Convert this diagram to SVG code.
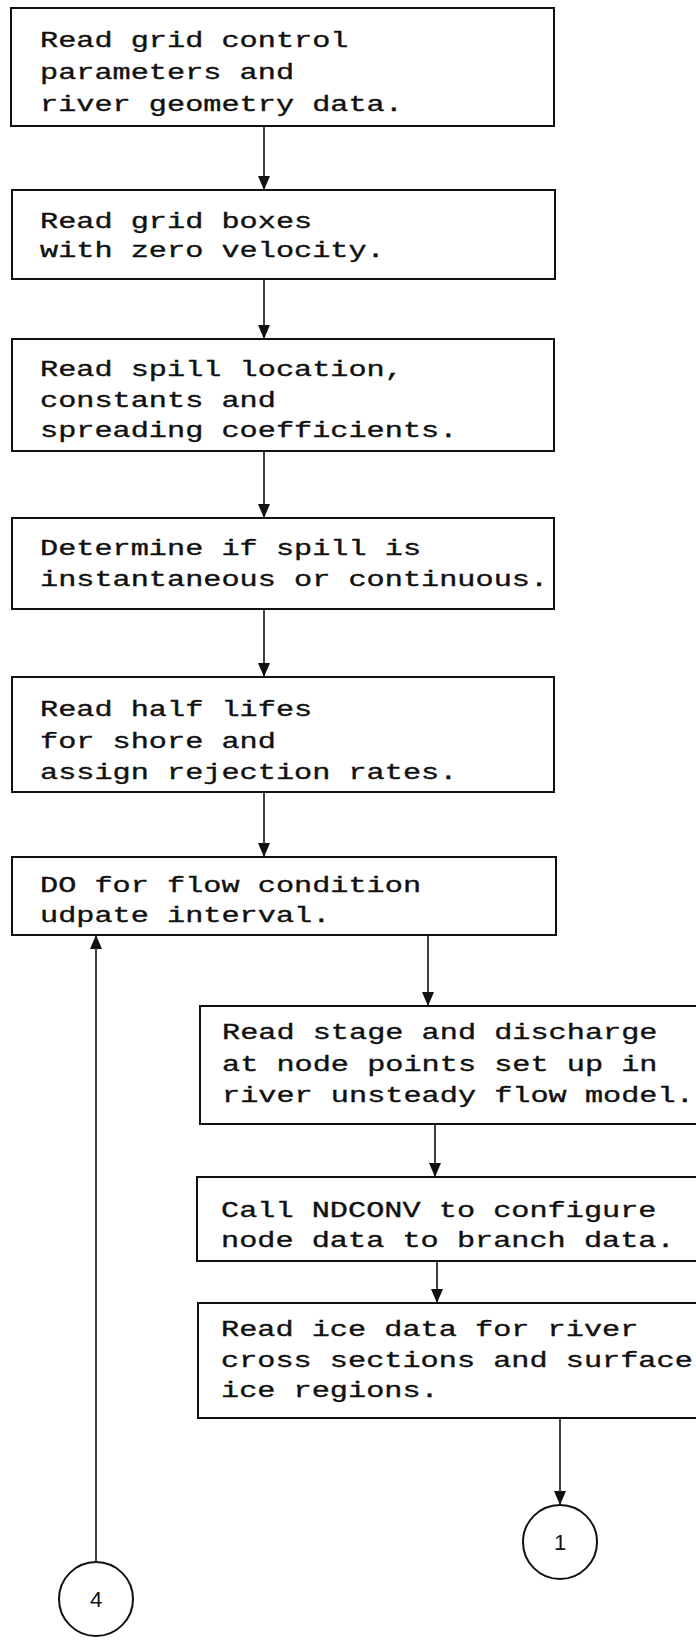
<svg xmlns="http://www.w3.org/2000/svg" width="696" height="1642" viewBox="0 0 696 1642">
  <style>
    .box { fill: #fff; stroke: #111; stroke-width: 2; }
    .t { font-family: "Liberation Mono", "DejaVu Sans Mono", monospace; font-size: 22px; fill: #111; stroke: #111; stroke-width: 0.35; }
    .c { fill: none; stroke: #111; stroke-width: 1.6; }
    .conn { fill: #fff; stroke: #111; stroke-width: 2; }
    .lbl { font-family: "Liberation Sans", "DejaVu Sans", sans-serif; font-size: 22px; fill: #111; text-anchor: middle; }
  </style>
  <defs>
    <marker id="ah" viewBox="0 0 14 12" refX="14" refY="6" markerWidth="14" markerHeight="12" markerUnits="userSpaceOnUse" orient="auto">
      <path d="M0,0 L14,6 L0,12 z" fill="#111"/>
    </marker>
  </defs>

  <rect width="696" height="1642" fill="#fff"/>

  <!-- connectors -->
  <g id="connectors">
    <path class="c" d="M264,126 V190" marker-end="url(#ah)"/>
    <path class="c" d="M264,279 V339" marker-end="url(#ah)"/>
    <path class="c" d="M264,451 V518" marker-end="url(#ah)"/>
    <path class="c" d="M264,609 V677" marker-end="url(#ah)"/>
    <path class="c" d="M264,792 V857" marker-end="url(#ah)"/>
    <path class="c" d="M428,935 V1006" marker-end="url(#ah)"/>
    <path class="c" d="M435,1124 V1177" marker-end="url(#ah)"/>
    <path class="c" d="M437,1261 V1303" marker-end="url(#ah)"/>
    <path class="c" d="M560,1418 V1505" marker-end="url(#ah)"/>
    <path class="c" d="M96,1562 V935" marker-end="url(#ah)"/>
  </g>

  <!-- process boxes; text uses a widened monospace to get typewriter pitch -->
  <g id="read-grid-control">
    <rect class="box" x="11" y="8" width="543" height="118"/>
    <text class="t" transform="translate(40,0) scale(1.375,1)">
      <tspan x="0" y="47">Read grid control</tspan>
      <tspan x="0" y="79">parameters and</tspan>
      <tspan x="0" y="111">river geometry data.</tspan>
    </text>
  </g>

  <g id="read-grid-boxes">
    <rect class="box" x="12" y="190" width="543" height="89"/>
    <text class="t" transform="translate(40,0) scale(1.375,1)">
      <tspan x="0" y="228">Read grid boxes</tspan>
      <tspan x="0" y="257">with zero velocity.</tspan>
    </text>
  </g>

  <g id="read-spill-location">
    <rect class="box" x="12" y="339" width="542" height="112"/>
    <text class="t" transform="translate(40,0) scale(1.375,1)">
      <tspan x="0" y="376">Read spill location,</tspan>
      <tspan x="0" y="407">constants and</tspan>
      <tspan x="0" y="437">spreading coefficients.</tspan>
    </text>
  </g>

  <g id="spill-type">
    <rect class="box" x="12" y="518" width="542" height="91"/>
    <text class="t" transform="translate(40,0) scale(1.375,1)">
      <tspan x="0" y="555">Determine if spill is</tspan>
      <tspan x="0" y="586">instantaneous or continuous.</tspan>
    </text>
  </g>

  <g id="half-lifes">
    <rect class="box" x="12" y="677" width="542" height="115"/>
    <text class="t" transform="translate(40,0) scale(1.375,1)">
      <tspan x="0" y="716">Read half lifes</tspan>
      <tspan x="0" y="748">for shore and</tspan>
      <tspan x="0" y="779">assign rejection rates.</tspan>
    </text>
  </g>

  <g id="do-flow-interval">
    <rect class="box" x="12" y="857" width="544" height="78"/>
    <text class="t" transform="translate(40,0) scale(1.375,1)">
      <tspan x="0" y="892">DO for flow condition</tspan>
      <tspan x="0" y="922">udpate interval.</tspan>
    </text>
  </g>

  <g id="read-stage-discharge">
    <rect class="box" x="200" y="1006" width="520" height="118"/>
    <text class="t" transform="translate(222,0) scale(1.375,1)">
      <tspan x="0" y="1039">Read stage and discharge</tspan>
      <tspan x="0" y="1071">at node points set up in</tspan>
      <tspan x="0" y="1102">river unsteady flow model.</tspan>
    </text>
  </g>

  <g id="call-ndconv">
    <rect class="box" x="197" y="1177" width="520" height="84"/>
    <text class="t" transform="translate(221,0) scale(1.375,1)">
      <tspan x="0" y="1217">Call NDCONV to configure</tspan>
      <tspan x="0" y="1247">node data to branch data.</tspan>
    </text>
  </g>

  <g id="read-ice-data">
    <rect class="box" x="198" y="1303" width="520" height="115"/>
    <text class="t" transform="translate(221,0) scale(1.375,1)">
      <tspan x="0" y="1336">Read ice data for river</tspan>
      <tspan x="0" y="1367">cross sections and surface</tspan>
      <tspan x="0" y="1397">ice regions.</tspan>
    </text>
  </g>

  <!-- off-page connectors -->
  <g id="connector-1">
    <ellipse class="conn" cx="560" cy="1542" rx="37" ry="37"/>
    <text class="lbl" x="560" y="1550">1</text>
  </g>

  <g id="connector-4">
    <ellipse class="conn" cx="96" cy="1599" rx="37" ry="37"/>
    <text class="lbl" x="96" y="1607">4</text>
  </g>
</svg>
